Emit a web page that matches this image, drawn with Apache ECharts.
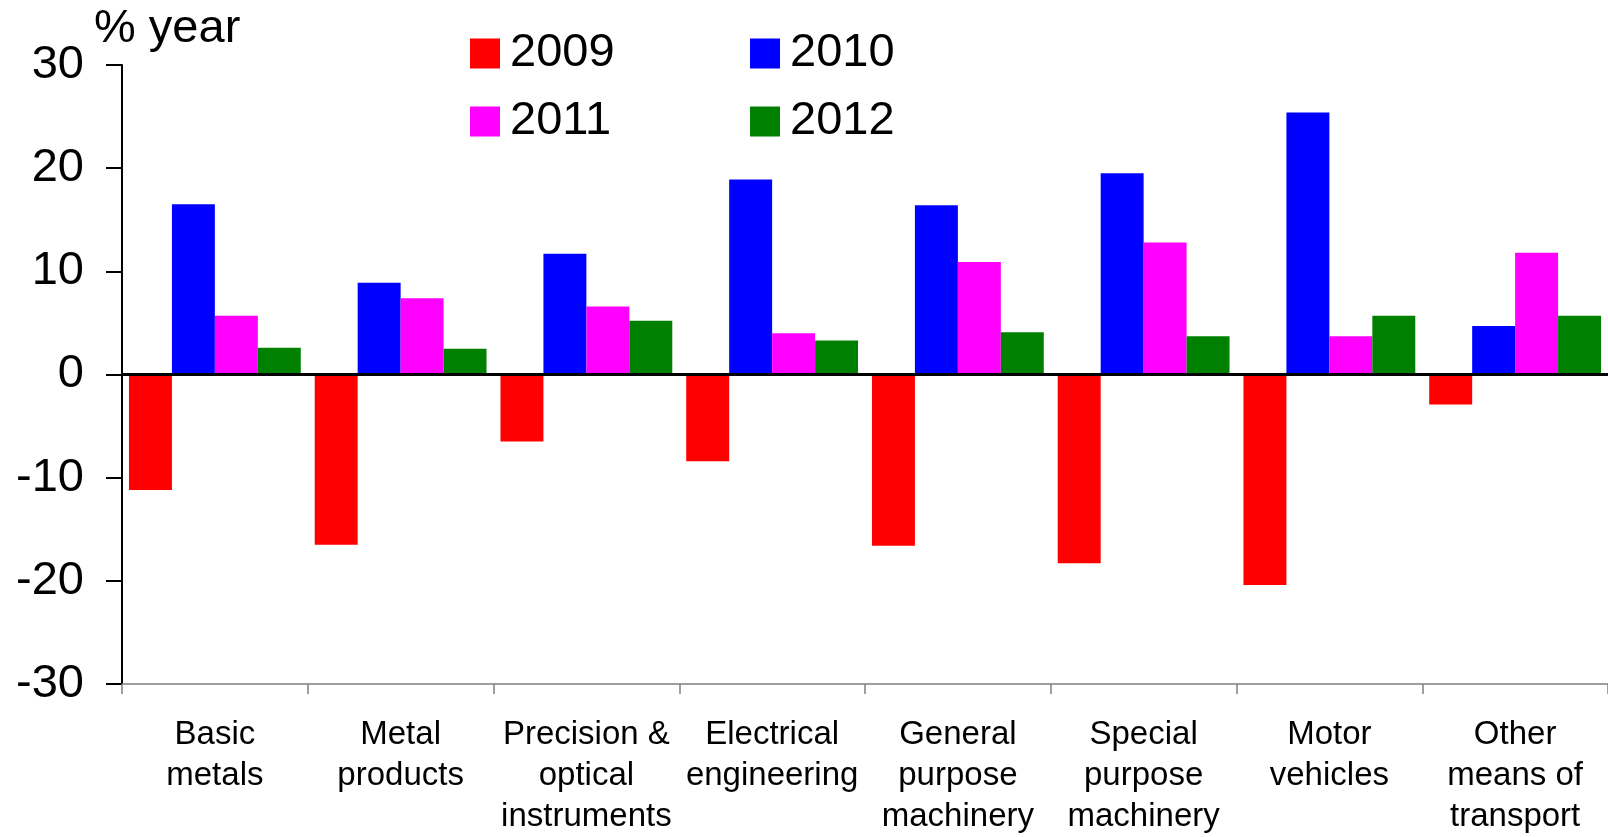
<!DOCTYPE html>
<html>
<head>
<meta charset="utf-8">
<script src="https://cdn.jsdelivr.net/npm/echarts@6/dist/echarts.min.js"></script>
<style>
html,body{margin:0;padding:0;background:#fff;}
#chart{width:1608px;height:837px;}
</style>
</head>
<body>
<div id="chart"></div>
<script>
const categories = ['Basic\nmetals','Metal\nproducts','Precision &\noptical\ninstruments','Electrical\nengineering','General\npurpose\nmachinery','Special\npurpose\nmachinery','Motor\nvehicles','Other\nmeans of\ntransport'];
const seriesNames = ['2009','2010','2011','2012'];
const v2009 = [-11.2, -16.5, -6.5, -8.4, -16.6, -18.3, -20.4, -2.9];
const v2010 = [16.5, 8.9, 11.7, 18.9, 16.4, 19.5, 25.4, 4.7];
const v2011 = [5.7, 7.4, 6.6, 4.0, 10.9, 12.8, 3.7, 11.8];
const v2012 = [2.6, 2.5, 5.2, 3.3, 4.1, 3.7, 5.7, 5.7];
const yTicks = {min: -30, max: 30, interval: 10};
const colors = ['#FF0000','#0000FF','#FF00FF','#008000'];
const values = [v2009, v2010, v2011, v2012];

const FONT = '"Liberation Sans", Arial, sans-serif';
const chart = echarts.init(document.getElementById('chart'), null, {renderer:'canvas'});

const series = seriesNames.map((name, i) => ({
  name: name,
  type: 'bar',
  data: values[i],
  barGap: '0%',
  barCategoryGap: '7.5%',
  itemStyle: {color: colors[i]},
  emphasis: {disabled: true},
  markLine: i === 0 ? {
    silent: true,
    symbol: ['none','none'],
    label: {show: false},
    lineStyle: {color: '#000', width: 3, type: 'solid'},
    z: 10,
    data: [{yAxis: 0}]
  } : undefined
}));

const legendCommon = {
  orient: 'horizontal',
  padding: 0,
  itemWidth: 30,
  itemHeight: 30,
  icon: 'rect',
  textStyle: {fontFamily: FONT, fontSize: 47, color: '#000', padding: [0,0,0,5]},
  selectedMode: false
};
const legendPos = [[470, 30], [750, 30], [470, 98], [750, 98]];

chart.setOption({
  animation: false,
  backgroundColor: '#fff',
  title: {
    text: '% year',
    left: 89,
    top: 1,
    padding: 5,
    textStyle: {fontFamily: FONT, fontSize: 47, fontWeight: 'normal', color: '#000'}
  },
  legend: seriesNames.map((n, i) => Object.assign({}, legendCommon, {data: [n], left: legendPos[i][0], top: legendPos[i][1]})),
  grid: {left: 122, right: -3, top: 65, bottom: 148, containLabel: false},
  xAxis: {
    type: 'category',
    data: categories,
    axisLine: {onZero: false, lineStyle: {color: '#808080', width: 1.5}},
    axisTick: {show: true, length: 10, lineStyle: {color: '#808080', width: 1.5}},
    axisLabel: {interval: 0, margin: 30, fontFamily: FONT, fontSize: 33, lineHeight: 41, color: '#000'},
    splitLine: {show: false}
  },
  yAxis: {
    type: 'value',
    min: yTicks.min,
    max: yTicks.max,
    interval: yTicks.interval,
    axisLine: {show: true, lineStyle: {color: '#000', width: 2}},
    axisTick: {show: true, length: 16, lineStyle: {color: '#000', width: 2}},
    axisLabel: {margin: 38, fontFamily: FONT, fontSize: 47, color: '#000'},
    splitLine: {show: false}
  },
  series: series
});
</script>
</body>
</html>
